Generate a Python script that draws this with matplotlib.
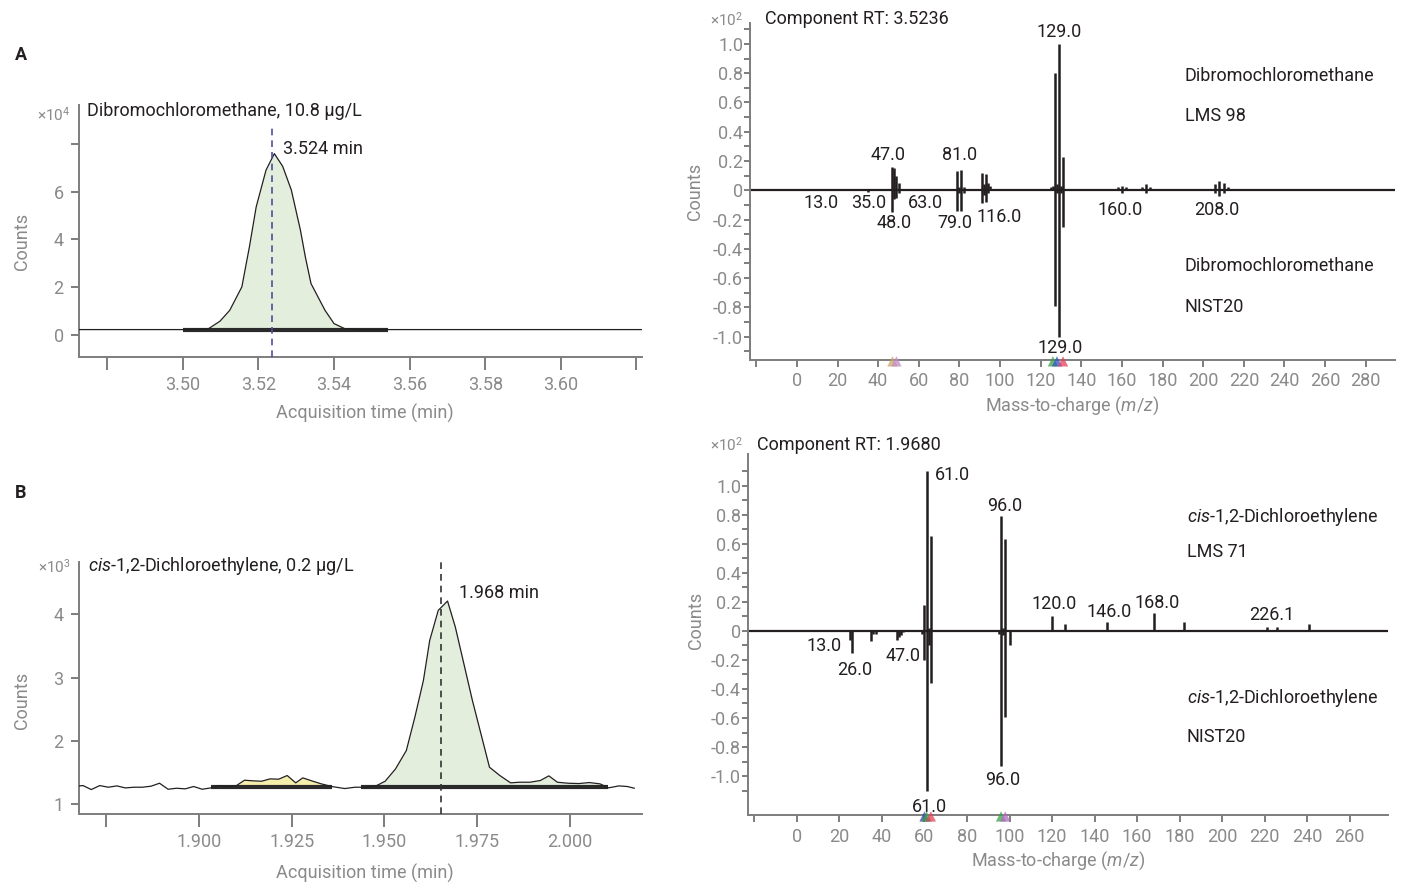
import numpy as np
import matplotlib.pyplot as plt

plt.rcParams['font.family'] = ['Roboto', 'DejaVu Sans']
plt.rcParams['mathtext.fontset'] = 'custom'
plt.rcParams['mathtext.rm'] = 'Roboto'
plt.rcParams['mathtext.it'] = 'Roboto:italic'

GREY = '#8a8a8a'
SPINE = '#7d7d7d'
INK = '#231f20'
GREEN = '#e3efdc'
YELLOW = '#f6efab'
FS = 13
W, H = 1402, 884

# --- A: chromatogram, dibromochloromethane (counts x1e4)
a_time = [3.4726, 3.5000, 3.5040, 3.5067, 3.5098, 3.5124, 3.5156, 3.5176, 3.5194, 3.5220,
          3.5242, 3.5264, 3.5287, 3.5311, 3.5324, 3.5339, 3.5376, 3.5400, 3.5428, 3.5460, 3.6215]
a_counts = [0.21, 0.21, 0.22, 0.24, 0.56, 1.02, 2.00, 3.68, 5.36, 6.90,
            7.59, 7.06, 6.06, 4.38, 3.26, 2.14, 1.02, 0.46, 0.25, 0.21, 0.21]
a_region = (3.5000, 3.5542)
a_base = 0.21
a_rt = 3.5237

# --- B: chromatogram, cis-1,2-dichloroethylene (counts x1e3)
b_time = [1.8668, 1.8688, 1.8710, 1.8733, 1.8756, 1.8779, 1.8802, 1.8825, 1.8848, 1.8871,
          1.8894, 1.8917, 1.8940, 1.8963, 1.8986, 1.9009, 1.9032, 1.9055, 1.9077, 1.9100,
          1.9123, 1.9146, 1.9169, 1.9192, 1.9215, 1.9238, 1.9261, 1.9280, 1.9307, 1.9330,
          1.9358, 1.9393, 1.9421, 1.9450, 1.9479, 1.9502, 1.9530, 1.9559, 1.9582, 1.9605,
          1.9622, 1.9645, 1.9670, 1.9691, 1.9714, 1.9737, 1.9760, 1.9783, 1.9811, 1.9840,
          1.9863, 1.9892, 1.9920, 1.9943, 1.9966, 1.9995, 2.0024, 2.0052, 2.0081, 2.0104,
          2.0132, 2.0155, 2.0173]
b_counts = [1.280, 1.290, 1.227, 1.290, 1.264, 1.285, 1.253, 1.264, 1.264, 1.280,
            1.327, 1.232, 1.248, 1.238, 1.275, 1.232, 1.253, 1.290, 1.275, 1.285,
            1.375, 1.365, 1.359, 1.396, 1.391, 1.449, 1.333, 1.412, 1.359, 1.317,
            1.275, 1.243, 1.264, 1.264, 1.290, 1.359, 1.555, 1.845, 2.373, 2.954,
            3.588, 4.064, 4.212, 3.800, 3.219, 2.638, 2.110, 1.581, 1.449, 1.333,
            1.343, 1.343, 1.370, 1.444, 1.343, 1.327, 1.322, 1.338, 1.317, 1.254,
            1.285, 1.275, 1.248]
b_minor_region = (1.9032, 1.9358)
b_minor_base = 1.275
b_region = (1.9436, 2.0102)
b_base = 1.26
b_rt = 1.9652

# --- spectrum for A (x1e2), sample up, NIST20 library down
c_mz = [35, 47, 48, 49, 50, 79, 80, 81, 82, 91, 92, 93, 94, 95, 117, 125, 126, 127, 128,
        129, 130, 131, 158, 160, 162, 170, 172, 174, 206, 208, 210, 212]
c_int = [0.01, 0.16, 0.15, 0.10, 0.05, 0.13, 0.02, 0.14, 0.02, 0.12, 0.04, 0.11, 0.05, 0.03,
         0.01, 0.02, 0.03, 0.80, 0.04, 1.00, 0.03, 0.23, 0.02, 0.03, 0.02, 0.02, 0.04, 0.02,
         0.04, 0.06, 0.05, 0.02]
c_lib_mz = [35, 47, 48, 49, 50, 79, 80, 81, 82, 91, 92, 93, 94, 127, 128, 129, 130, 131,
            160, 172, 206, 208, 210]
c_lib_int = [-0.01, -0.15, -0.06, -0.05, -0.02, -0.14, -0.02, -0.14, -0.02, -0.09, -0.03,
             -0.08, -0.02, -0.79, -0.02, -1.00, -0.02, -0.25, -0.02, -0.02, -0.02, -0.04, -0.02]
c_labels = ['13.0', '35.0', '47.0', '48.0', '63.0', '79.0', '81.0', '116.0', '129.0',
            '160.0', '208.0', '129.0']
c_label_x = [12, 35.2, 44.8, 47.9, 63.1, 77.8, 80.1, 99.3, 129.3, 159.2, 206.8, 129.4]
c_label_y = [-0.089, -0.089, 0.242, -0.221, -0.089, -0.221, 0.242, -0.183, 1.08,
             -0.135, -0.135, -1.075]
c_names = ['Dibromochloromethane', 'LMS 98', 'Dibromochloromethane', 'NIST20']
c_name_y = [0.78, 0.51, -0.52, -0.80]
c_marks = [47, 49, 126, 128, 131]
c_mark_colors = ['#c9a46a', '#c38ac8', '#3aa04a', '#3552c4', '#e4415a']

# --- spectrum for B (x1e2)
d_mz = [60, 61, 62, 63, 96, 97, 98, 120, 126, 146, 168, 182, 221, 226, 241]
d_int = [0.18, 1.10, 0.02, 0.65, 0.79, 0.02, 0.63, 0.10, 0.05, 0.06, 0.12, 0.06, 0.03,
         0.03, 0.05]
d_lib_mz = [25, 26, 35, 36, 37, 47, 48, 49, 50, 59, 60, 61, 62, 63, 95, 96, 97, 98, 100]
d_lib_int = [-0.06, -0.15, -0.07, -0.02, -0.02, -0.06, -0.04, -0.03, -0.01, -0.02, -0.20,
             -1.10, -0.10, -0.36, -0.02, -0.93, -0.03, -0.59, -0.10]
d_labels = ['61.0', '96.0', '120.0', '146.0', '168.0', '226.1', '13.0', '26.0', '47.0',
            '96.0', '61.0']
d_label_x = [73.3, 97.5, 120.8, 147.0, 169.3, 223.3, 12.7, 27.0, 49.8, 96.9, 62.1]
d_label_y = [1.07, 0.86, 0.186, 0.133, 0.19, 0.11, -0.103, -0.268, -0.172, -1.03, -1.21]
d_names = ['$\\mathit{cis}$-1,2-Dichloroethylene', 'LMS 71',
           '$\\mathit{cis}$-1,2-Dichloroethylene', 'NIST20']
d_name_y = [0.787, 0.546, -0.463, -0.734]
d_marks = [60, 61, 63, 96, 98]
d_mark_colors = ['#3d45b0', '#3aa04a', '#e4415a', '#3aa04a', '#b468c4']


def px_axes(fig, l, t, r, b):
    return fig.add_axes([l / W, 1 - b / H, (r - l) / W, (b - t) / H])


def style_axes(ax):
    for s in ('top', 'right'):
        ax.spines[s].set_visible(False)
    for s in ('left', 'bottom'):
        ax.spines[s].set_color(SPINE)
        ax.spines[s].set_linewidth(1.4)
    ax.tick_params(which='both', colors=SPINE, labelcolor=GREY, labelsize=FS, width=1.4)


def chromatogram(ax, t, y, xlim, ylim, xticks, xlabels, yticks, ylabels):
    style_axes(ax)
    ax.plot(t, y, color=INK, lw=0.9, zorder=3)
    ax.set_xlim(*xlim)
    ax.set_ylim(*ylim)
    ax.set_xticks(xticks)
    ax.set_xticklabels(xlabels)
    ax.set_yticks(yticks)
    ax.set_yticklabels(ylabels)
    ax.tick_params(axis='x', length=9, pad=5)
    ax.tick_params(axis='y', length=6, pad=5)
    ax.set_xlabel('Acquisition time (min)', color=GREY, fontsize=FS)
    ax.set_ylabel('Counts', color=GREY, fontsize=FS, va='center', ha='center')


def shade(ax, t, y, region, base, color):
    t = np.array(t)
    y = np.array(y)
    m = (t >= region[0]) & (t <= region[1])
    ax.fill_between(t[m], y[m], base, color=color, lw=0, zorder=1)
    ax.plot(region, [base, base], color='#2a2a2a', lw=3, solid_capstyle='butt', zorder=2)


def spectrum(ax, mz, inten, lib_mz, lib_int, xlim, ylim, xmax_tick):
    style_axes(ax)
    ax.axhline(0, color=INK, lw=1.6, zorder=2)
    ax.vlines(mz, 0, inten, color=INK, lw=1.8, zorder=3)
    ax.vlines(lib_mz, 0, lib_int, color=INK, lw=1.8, zorder=3)
    ax.set_xlim(*xlim)
    ax.set_ylim(*ylim)
    xt = np.arange(-20, xmax_tick + 1, 20)
    ax.set_xticks(xt)
    ax.set_xticklabels([''] + [str(v) for v in xt[1:]])
    major = [-1.0, -0.8, -0.6, -0.4, -0.2, 0, 0.2, 0.4, 0.6, 0.8, 1.0]
    ax.set_yticks(major)
    ax.set_yticklabels(['-1.0', '-0.8', '-0.6', '-0.4', '-0.2', '0', '0.2', '0.4', '0.6',
                        '0.8', '1.0'])
    minor = [v / 10 for v in range(-11, 12, 2) if ylim[0] <= v / 10 <= ylim[1]]
    ax.set_yticks(minor, minor=True)
    ax.tick_params(axis='x', length=5, pad=4)
    ax.tick_params(axis='y', which='both', length=4.5, pad=0.5)
    ax.set_xlabel('Mass-to-charge ($\\mathit{m/z}$)', color=GREY, fontsize=FS)
    ax.set_ylabel('Counts', color=GREY, fontsize=FS, va='center', ha='center')


fig = plt.figure(figsize=(14.02, 8.84), dpi=100)

# ---------------- A chromatogram
ax = px_axes(fig, 79, 105, 642, 357)
chromatogram(ax, a_time, a_counts, (3.4725, 3.6215), (-0.94, 9.63),
             [3.48, 3.50, 3.52, 3.54, 3.56, 3.58, 3.60, 3.62],
             ['', '3.50', '3.52', '3.54', '3.56', '3.58', '3.60', ''],
             [0, 2, 4, 6, 8], ['0', '2', '4', '6', ''])
shade(ax, a_time, a_counts, a_region, a_base, GREEN)
ax.vlines(a_rt, -0.94, 8.8, color='#4d4f9e', lw=1.2, ls=(0, (4, 3)), zorder=4)
ax.text(3.5264, 7.8, '3.524 min', color=INK, fontsize=FS, va='center')
ax.text(0.015, 0.975, 'Dibromochloromethane, 10.8 µg/L', transform=ax.transAxes,
        color=INK, fontsize=FS, va='center')
ax.text(-0.015, 0.962, '×10$^4$', transform=ax.transAxes, color=GREY, fontsize=11,
        ha='right', va='center')
ax.xaxis.set_label_coords(0.508, -0.222)
ax.xaxis.label.set_va('center')
ax.yaxis.set_label_coords(-0.101, 0.46)

# ---------------- B chromatogram
ax = px_axes(fig, 79, 562, 642, 814)
chromatogram(ax, b_time, b_counts, (1.8677, 2.0194), (0.84, 4.83),
             [1.875, 1.900, 1.925, 1.950, 1.975, 2.000],
             ['', '1.900', '1.925', '1.950', '1.975', '2.000'],
             [1, 2, 3, 4], ['1', '2', '3', '4'])
shade(ax, b_time, b_counts, b_minor_region, b_minor_base, YELLOW)
shade(ax, b_time, b_counts, b_region, b_base, GREEN)
ax.axvline(b_rt, color='#333333', lw=1.2, ls=(0, (4, 3)), zorder=4)
ax.text(1.9702, 4.34, '1.968 min', color=INK, fontsize=FS, va='center')
ax.text(0.016, 0.985, '$\\mathit{cis}$-1,2-Dichloroethylene, 0.2 µg/L', transform=ax.transAxes,
        color=INK, fontsize=FS, va='center')
ax.text(-0.015, 0.98, '×10$^3$', transform=ax.transAxes, color=GREY, fontsize=11,
        ha='right', va='center')
ax.xaxis.set_label_coords(0.508, -0.234)
ax.xaxis.label.set_va('center')
ax.yaxis.set_label_coords(-0.101, 0.45)

# ---------------- A spectrum
ax = px_axes(fig, 750, 23, 1395, 360)
spectrum(ax, c_mz, c_int, c_lib_mz, c_lib_int, (-23.1, 294.4), (-1.16, 1.143), 280)
for s, x, y in zip(c_labels, c_label_x, c_label_y):
    ax.text(x, y, s, color=INK, fontsize=FS, ha='center', va='center')
for s, y in zip(c_names, c_name_y):
    ax.text(191, y, s, color=INK, fontsize=FS, va='center')
ax.scatter(c_marks, [-0.004] * len(c_marks), marker='^', s=55, c=c_mark_colors, alpha=0.75,
           transform=ax.get_xaxis_transform(), clip_on=False, zorder=5, lw=0)
ax.text(0.024, 1.012, 'Component RT: 3.5236', transform=ax.transAxes, color=INK,
        fontsize=FS, va='center')
ax.text(-0.011, 1.01, '×10$^2$', transform=ax.transAxes, color=GREY, fontsize=11,
        ha='right', va='center')
ax.xaxis.set_label_coords(0.5, -0.136)
ax.xaxis.label.set_va('center')
ax.yaxis.set_label_coords(-0.0855, 0.5)

# ---------------- B spectrum
ax = px_axes(fig, 748, 454, 1388, 815)
spectrum(ax, d_mz, d_int, d_lib_mz, d_lib_int, (-23.0, 278.0), (-1.268, 1.218), 260)
for s, x, y in zip(d_labels, d_label_x, d_label_y):
    ax.text(x, y, s, color=INK, fontsize=FS, ha='center', va='center')
for s, y in zip(d_names, d_name_y):
    ax.text(183.4, y, s, color=INK, fontsize=FS, va='center')
ax.scatter(d_marks, [-0.004] * len(d_marks), marker='^', s=55, c=d_mark_colors, alpha=0.75,
           transform=ax.get_xaxis_transform(), clip_on=False, zorder=5, lw=0)
ax.text(0.0135, 1.025, 'Component RT: 1.9680', transform=ax.transAxes, color=INK,
        fontsize=FS, va='center')
ax.text(-0.008, 1.025, '×10$^2$', transform=ax.transAxes, color=GREY, fontsize=11,
        ha='right', va='center')
ax.xaxis.set_label_coords(0.485, -0.127)
ax.xaxis.label.set_va('center')
ax.yaxis.set_label_coords(-0.082, 0.54)

fig.text(15 / W, 1 - 55 / H, 'A', fontsize=FS, fontweight='bold', color=INK, va='center')
fig.text(15 / W, 1 - 493 / H, 'B', fontsize=FS, fontweight='bold', color=INK, va='center')

fig.savefig('out.png', dpi=100, facecolor='white')
